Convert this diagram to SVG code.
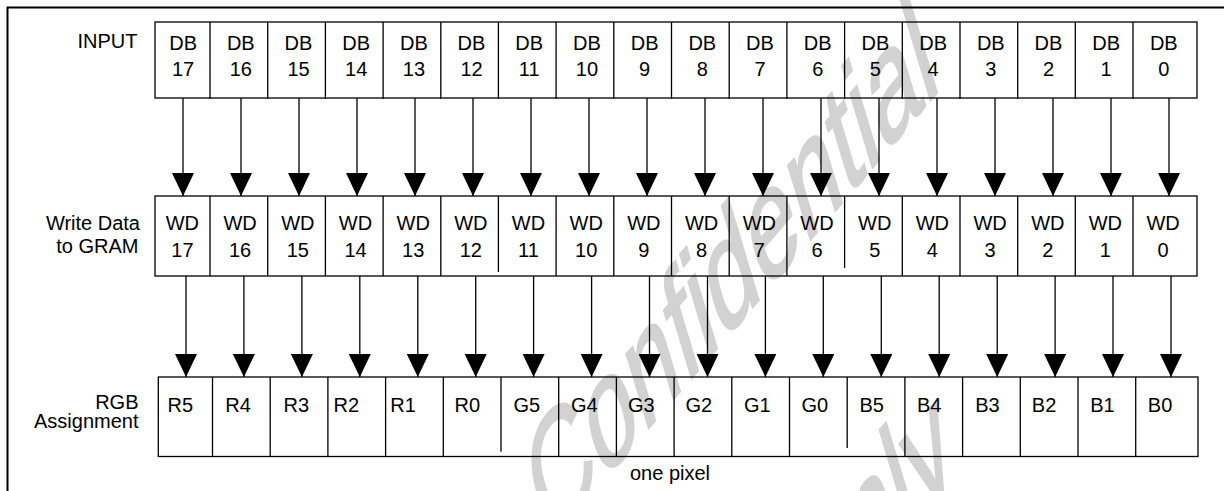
<svg xmlns="http://www.w3.org/2000/svg" width="1224" height="491" viewBox="0 0 1224 491">
<style>
.t{font-family:"Liberation Sans",Arial,sans-serif;font-size:20px;fill:#000}
.c{text-anchor:middle}
.r{text-anchor:end}
.box{fill:none;stroke:#000;stroke-width:1.3}
.dv{stroke:#000;stroke-width:1.3}
.ar{stroke:#000;stroke-width:1.3;marker-end:url(#ah)}
.wm{font-family:"Liberation Sans",Arial,sans-serif;font-size:140px;fill:#d2d2d2;stroke:#d2d2d2;stroke-width:2.5}
</style>
<defs>
<marker id="ah" viewBox="0 0 23 22" refX="23" refY="11" markerWidth="23" markerHeight="22" markerUnits="userSpaceOnUse" orient="auto">
<path d="M0,0 L23,11 L0,22 Z" fill="#000"/>
</marker>
</defs>
<rect width="1224" height="491" fill="#fff"/>
<g id="watermark">
<text class="wm" transform="matrix(0.533,-0.62,0.3,1.0,548,545)">Confidential</text>
<text class="wm" transform="matrix(0.533,-0.62,0.3,1.0,822,634)">only</text>
</g>
<path d="M7.5,491 V7.5 H1224" fill="none" stroke="#000" stroke-width="2"/>
<g id="labels">
<text class="t r" x="137.5" y="48">INPUT</text>
<text class="t r" x="140" y="230">Write Data</text>
<text class="t r" x="138.5" y="253">to GRAM</text>
<text class="t r" x="138.5" y="409">RGB</text>
<text class="t r" x="138.5" y="428">Assignment</text>
<text class="t c" x="670" y="480">one pixel</text>
</g>
<g id="row-input">
<rect class="box" x="155" y="22" width="1042" height="76"/>
<path class="dv" d="M210,22V99 M267.7,22V99 M325.4,22V99 M383.1,22V99 M440.8,22V99 M498.4,22V99 M556.1,22V99 M613.8,22V99 M671.5,22V99 M729.2,22V99 M786.9,22V99 M844.6,22V99 M902.3,22V99 M960,22V99 M1017.7,22V99 M1075.3,22V99 M1133,22V99"/>
</g>
<g id="row-wd">
<rect class="box" x="155" y="196" width="1042" height="80"/>
<path class="dv" d="M210,196V276 M267.7,196V276 M325.4,196V276 M383.1,196V276 M440.8,196V276 M498.4,196V272 M556.1,196V276 M613.8,196V276 M671.5,196V276 M729.2,196V276 M786.9,196V276 M844.6,196V268 M902.3,196V276 M960,196V276 M1017.7,196V276 M1075.3,196V276 M1133,196V276"/>
</g>
<g id="row-rgb">
<rect class="box" x="158.3" y="377" width="1039.7" height="79.5"/>
<path class="dv" d="M212.5,377V456.5 M270.2,377V456.5 M327.9,377V456.5 M385.6,377V456.5 M443.3,377V456.5 M501,377V451.7 M558.7,377V456.5 M616.4,377V456.5 M674.1,377V456.5 M731.8,377V456.5 M789.5,377V456.5 M847.2,377V448 M904.9,377V456.5 M962.6,377V456.5 M1020.3,377V456.5 M1078,377V456.5 M1135.7,377V456.5"/>
</g>
<g id="db17"><text class="t c" x="183.1" y="50">DB</text><text class="t c" x="183.1" y="76">17</text></g>
<g id="db16"><text class="t c" x="240.8" y="50">DB</text><text class="t c" x="240.8" y="76">16</text></g>
<g id="db15"><text class="t c" x="298.5" y="50">DB</text><text class="t c" x="298.5" y="76">15</text></g>
<g id="db14"><text class="t c" x="356.2" y="50">DB</text><text class="t c" x="356.2" y="76">14</text></g>
<g id="db13"><text class="t c" x="413.9" y="50">DB</text><text class="t c" x="413.9" y="76">13</text></g>
<g id="db12"><text class="t c" x="471.5" y="50">DB</text><text class="t c" x="471.5" y="76">12</text></g>
<g id="db11"><text class="t c" x="529.2" y="50">DB</text><text class="t c" x="529.2" y="76">11</text></g>
<g id="db10"><text class="t c" x="586.9" y="50">DB</text><text class="t c" x="586.9" y="76">10</text></g>
<g id="db9"><text class="t c" x="644.6" y="50">DB</text><text class="t c" x="644.6" y="76">9</text></g>
<g id="db8"><text class="t c" x="702.3" y="50">DB</text><text class="t c" x="702.3" y="76">8</text></g>
<g id="db7"><text class="t c" x="760" y="50">DB</text><text class="t c" x="760" y="76">7</text></g>
<g id="db6"><text class="t c" x="817.7" y="50">DB</text><text class="t c" x="817.7" y="76">6</text></g>
<g id="db5"><text class="t c" x="875.4" y="50">DB</text><text class="t c" x="875.4" y="76">5</text></g>
<g id="db4"><text class="t c" x="933.1" y="50">DB</text><text class="t c" x="933.1" y="76">4</text></g>
<g id="db3"><text class="t c" x="990.8" y="50">DB</text><text class="t c" x="990.8" y="76">3</text></g>
<g id="db2"><text class="t c" x="1048.5" y="50">DB</text><text class="t c" x="1048.5" y="76">2</text></g>
<g id="db1"><text class="t c" x="1106.1" y="50">DB</text><text class="t c" x="1106.1" y="76">1</text></g>
<g id="db0"><text class="t c" x="1163.8" y="50">DB</text><text class="t c" x="1163.8" y="76">0</text></g>
<g id="wd17"><text class="t c" x="182.4" y="230">WD</text><text class="t c" x="182.4" y="257">17</text></g>
<g id="wd16"><text class="t c" x="240.1" y="230">WD</text><text class="t c" x="240.1" y="257">16</text></g>
<g id="wd15"><text class="t c" x="297.8" y="230">WD</text><text class="t c" x="297.8" y="257">15</text></g>
<g id="wd14"><text class="t c" x="355.5" y="230">WD</text><text class="t c" x="355.5" y="257">14</text></g>
<g id="wd13"><text class="t c" x="413.2" y="230">WD</text><text class="t c" x="413.2" y="257">13</text></g>
<g id="wd12"><text class="t c" x="470.8" y="230">WD</text><text class="t c" x="470.8" y="257">12</text></g>
<g id="wd11"><text class="t c" x="528.5" y="230">WD</text><text class="t c" x="528.5" y="257">11</text></g>
<g id="wd10"><text class="t c" x="586.2" y="230">WD</text><text class="t c" x="586.2" y="257">10</text></g>
<g id="wd9"><text class="t c" x="643.9" y="230">WD</text><text class="t c" x="643.9" y="257">9</text></g>
<g id="wd8"><text class="t c" x="701.6" y="230">WD</text><text class="t c" x="701.6" y="257">8</text></g>
<g id="wd7"><text class="t c" x="759.3" y="230">WD</text><text class="t c" x="759.3" y="257">7</text></g>
<g id="wd6"><text class="t c" x="817" y="230">WD</text><text class="t c" x="817" y="257">6</text></g>
<g id="wd5"><text class="t c" x="874.7" y="230">WD</text><text class="t c" x="874.7" y="257">5</text></g>
<g id="wd4"><text class="t c" x="932.4" y="230">WD</text><text class="t c" x="932.4" y="257">4</text></g>
<g id="wd3"><text class="t c" x="990.1" y="230">WD</text><text class="t c" x="990.1" y="257">3</text></g>
<g id="wd2"><text class="t c" x="1047.8" y="230">WD</text><text class="t c" x="1047.8" y="257">2</text></g>
<g id="wd1"><text class="t c" x="1105.4" y="230">WD</text><text class="t c" x="1105.4" y="257">1</text></g>
<g id="wd0"><text class="t c" x="1163.1" y="230">WD</text><text class="t c" x="1163.1" y="257">0</text></g>
<g id="r5"><text class="t" x="167.5" y="412">R5</text></g>
<g id="r4"><text class="t" x="225.2" y="412">R4</text></g>
<g id="r3"><text class="t" x="283.5" y="412">R3</text></g>
<g id="r2"><text class="t" x="333.5" y="412">R2</text></g>
<g id="r1"><text class="t" x="390.2" y="412">R1</text></g>
<g id="r0"><text class="t" x="454.5" y="412">R0</text></g>
<g id="g5"><text class="t" x="513.5" y="412">G5</text></g>
<g id="g4"><text class="t" x="571" y="412">G4</text></g>
<g id="g3"><text class="t" x="628" y="412">G3</text></g>
<g id="g2"><text class="t" x="685.5" y="412">G2</text></g>
<g id="g1"><text class="t" x="744" y="412">G1</text></g>
<g id="g0"><text class="t" x="801.5" y="412">G0</text></g>
<g id="b5"><text class="t" x="859.5" y="412">B5</text></g>
<g id="b4"><text class="t" x="917" y="412">B4</text></g>
<g id="b3"><text class="t" x="975.2" y="412">B3</text></g>
<g id="b2"><text class="t" x="1031.8" y="412">B2</text></g>
<g id="b1"><text class="t" x="1090.2" y="412">B1</text></g>
<g id="b0"><text class="t" x="1147.8" y="412">B0</text></g>
<g id="connectors">
<line class="ar" x1="183" y1="98" x2="183" y2="196"/>
<line class="ar" x1="241" y1="98" x2="241" y2="196"/>
<line class="ar" x1="299" y1="98" x2="299" y2="196"/>
<line class="ar" x1="357" y1="98" x2="357" y2="196"/>
<line class="ar" x1="415" y1="98" x2="415" y2="196"/>
<line class="ar" x1="473" y1="98" x2="473" y2="196"/>
<line class="ar" x1="531" y1="98" x2="531" y2="196"/>
<line class="ar" x1="589" y1="98" x2="589" y2="196"/>
<line class="ar" x1="647" y1="98" x2="647" y2="196"/>
<line class="ar" x1="705" y1="98" x2="705" y2="196"/>
<line class="ar" x1="763" y1="98" x2="763" y2="196"/>
<line class="ar" x1="821" y1="98" x2="821" y2="196"/>
<line class="ar" x1="879" y1="98" x2="879" y2="196"/>
<line class="ar" x1="937" y1="98" x2="937" y2="196"/>
<line class="ar" x1="995" y1="98" x2="995" y2="196"/>
<line class="ar" x1="1053" y1="98" x2="1053" y2="196"/>
<line class="ar" x1="1111" y1="98" x2="1111" y2="196"/>
<line class="ar" x1="1169" y1="98" x2="1169" y2="196"/>
<line class="ar" x1="186" y1="276" x2="186" y2="377"/>
<line class="ar" x1="243.9" y1="276" x2="243.9" y2="377"/>
<line class="ar" x1="301.9" y1="276" x2="301.9" y2="377"/>
<line class="ar" x1="359.8" y1="276" x2="359.8" y2="377"/>
<line class="ar" x1="417.8" y1="276" x2="417.8" y2="377"/>
<line class="ar" x1="475.7" y1="276" x2="475.7" y2="377"/>
<line class="ar" x1="533.6" y1="276" x2="533.6" y2="377"/>
<line class="ar" x1="591.6" y1="276" x2="591.6" y2="377"/>
<line class="ar" x1="649.5" y1="276" x2="649.5" y2="377"/>
<line class="ar" x1="707.5" y1="276" x2="707.5" y2="377"/>
<line class="ar" x1="765.4" y1="276" x2="765.4" y2="377"/>
<line class="ar" x1="823.3" y1="276" x2="823.3" y2="377"/>
<line class="ar" x1="881.3" y1="276" x2="881.3" y2="377"/>
<line class="ar" x1="939.2" y1="276" x2="939.2" y2="377"/>
<line class="ar" x1="997.2" y1="276" x2="997.2" y2="377"/>
<line class="ar" x1="1055.1" y1="276" x2="1055.1" y2="377"/>
<line class="ar" x1="1113" y1="276" x2="1113" y2="377"/>
<line class="ar" x1="1171" y1="276" x2="1171" y2="377"/>
</g>
</svg>
